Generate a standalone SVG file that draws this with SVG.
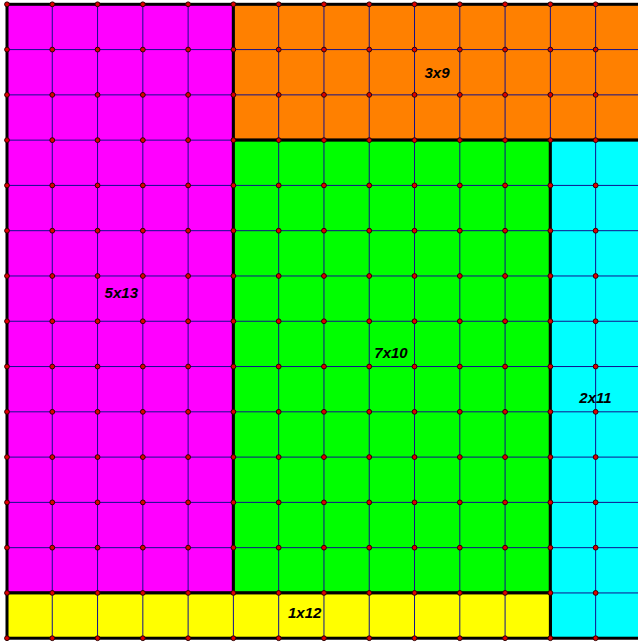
<svg xmlns="http://www.w3.org/2000/svg" width="638" height="642" viewBox="0 0 638 642">
<style>
.grid{fill:none;stroke:#10108c;stroke-width:1}
.border{fill:none;stroke:#000;stroke-width:3}
.lbl{font-family:"Liberation Sans",Arial,sans-serif;font-size:15px;font-weight:bold;font-style:italic;fill:#000;text-anchor:middle}
.vrow{fill:none;stroke:none;marker-start:url(#dot);marker-mid:url(#dot);marker-end:url(#dot)}
</style>
<defs>
<marker id="dot" markerWidth="8" markerHeight="8" refX="4" refY="4" markerUnits="userSpaceOnUse" overflow="visible">
<circle cx="4" cy="4" r="2.4" fill="#e00000" stroke="#300000" stroke-width="1"/>
</marker>
</defs>
<rect width="638" height="642" fill="#fff"/>
<g id="n5x13">
<rect x="7" y="4.3" width="226.4" height="588.64" fill="#ff00ff"/>
<path class="grid" d="M52.28 4.3V592.94M97.56 4.3V592.94M142.84 4.3V592.94M188.12 4.3V592.94M7 49.58H233.4M7 94.86H233.4M7 140.14H233.4M7 185.42H233.4M7 230.7H233.4M7 275.98H233.4M7 321.26H233.4M7 366.54H233.4M7 411.82H233.4M7 457.1H233.4M7 502.38H233.4M7 547.66H233.4"/>
<rect class="border" x="7" y="4.3" width="226.4" height="588.64"/>
<text class="lbl" x="121.3" y="297.5">5x13</text>
</g>
<g id="n3x9">
<rect x="233.4" y="4.3" width="407.52" height="135.84" fill="#ff8000"/>
<path class="grid" d="M278.68 4.3V140.14M323.96 4.3V140.14M369.24 4.3V140.14M414.52 4.3V140.14M459.8 4.3V140.14M505.08 4.3V140.14M550.36 4.3V140.14M595.64 4.3V140.14M233.4 49.58H640.92M233.4 94.86H640.92"/>
<rect class="border" x="233.4" y="4.3" width="407.52" height="135.84"/>
<text class="lbl" x="437" y="77.5">3x9</text>
</g>
<g id="n7x10">
<rect x="233.4" y="140.14" width="316.96" height="452.8" fill="#00ff00"/>
<path class="grid" d="M278.68 140.14V592.94M323.96 140.14V592.94M369.24 140.14V592.94M414.52 140.14V592.94M459.8 140.14V592.94M505.08 140.14V592.94M233.4 185.42H550.36M233.4 230.7H550.36M233.4 275.98H550.36M233.4 321.26H550.36M233.4 366.54H550.36M233.4 411.82H550.36M233.4 457.1H550.36M233.4 502.38H550.36M233.4 547.66H550.36"/>
<rect class="border" x="233.4" y="140.14" width="316.96" height="452.8"/>
<text class="lbl" x="391" y="357.5">7x10</text>
</g>
<g id="n2x11">
<rect x="550.36" y="140.14" width="90.56" height="498.08" fill="#00ffff"/>
<path class="grid" d="M595.64 140.14V638.22M550.36 185.42H640.92M550.36 230.7H640.92M550.36 275.98H640.92M550.36 321.26H640.92M550.36 366.54H640.92M550.36 411.82H640.92M550.36 457.1H640.92M550.36 502.38H640.92M550.36 547.66H640.92M550.36 592.94H640.92"/>
<rect class="border" x="550.36" y="140.14" width="90.56" height="498.08"/>
<text class="lbl" x="595.5" y="402.5">2x11</text>
</g>
<g id="n1x12">
<rect x="7" y="592.94" width="543.36" height="45.28" fill="#ffff00"/>
<path class="grid" d="M52.28 592.94V638.22M97.56 592.94V638.22M142.84 592.94V638.22M188.12 592.94V638.22M233.4 592.94V638.22M278.68 592.94V638.22M323.96 592.94V638.22M369.24 592.94V638.22M414.52 592.94V638.22M459.8 592.94V638.22M505.08 592.94V638.22"/>
<rect class="border" x="7" y="592.94" width="543.36" height="45.28"/>
<text class="lbl" x="304.7" y="617.5">1x12</text>
</g>
<g id="vertices">
<path class="vrow" d="M7 4.3H52.28H97.56H142.84H188.12H233.4H278.68H323.96H369.24H414.52H459.8H505.08H550.36H595.64H640.92"/>
<path class="vrow" d="M7 49.58H52.28H97.56H142.84H188.12H233.4H278.68H323.96H369.24H414.52H459.8H505.08H550.36H595.64H640.92"/>
<path class="vrow" d="M7 94.86H52.28H97.56H142.84H188.12H233.4H278.68H323.96H369.24H414.52H459.8H505.08H550.36H595.64H640.92"/>
<path class="vrow" d="M7 140.14H52.28H97.56H142.84H188.12H233.4H278.68H323.96H369.24H414.52H459.8H505.08H550.36H595.64H640.92"/>
<path class="vrow" d="M7 185.42H52.28H97.56H142.84H188.12H233.4H278.68H323.96H369.24H414.52H459.8H505.08H550.36H595.64H640.92"/>
<path class="vrow" d="M7 230.7H52.28H97.56H142.84H188.12H233.4H278.68H323.96H369.24H414.52H459.8H505.08H550.36H595.64H640.92"/>
<path class="vrow" d="M7 275.98H52.28H97.56H142.84H188.12H233.4H278.68H323.96H369.24H414.52H459.8H505.08H550.36H595.64H640.92"/>
<path class="vrow" d="M7 321.26H52.28H97.56H142.84H188.12H233.4H278.68H323.96H369.24H414.52H459.8H505.08H550.36H595.64H640.92"/>
<path class="vrow" d="M7 366.54H52.28H97.56H142.84H188.12H233.4H278.68H323.96H369.24H414.52H459.8H505.08H550.36H595.64H640.92"/>
<path class="vrow" d="M7 411.82H52.28H97.56H142.84H188.12H233.4H278.68H323.96H369.24H414.52H459.8H505.08H550.36H595.64H640.92"/>
<path class="vrow" d="M7 457.1H52.28H97.56H142.84H188.12H233.4H278.68H323.96H369.24H414.52H459.8H505.08H550.36H595.64H640.92"/>
<path class="vrow" d="M7 502.38H52.28H97.56H142.84H188.12H233.4H278.68H323.96H369.24H414.52H459.8H505.08H550.36H595.64H640.92"/>
<path class="vrow" d="M7 547.66H52.28H97.56H142.84H188.12H233.4H278.68H323.96H369.24H414.52H459.8H505.08H550.36H595.64H640.92"/>
<path class="vrow" d="M7 592.94H52.28H97.56H142.84H188.12H233.4H278.68H323.96H369.24H414.52H459.8H505.08H550.36H595.64H640.92"/>
<path class="vrow" d="M7 638.22H52.28H97.56H142.84H188.12H233.4H278.68H323.96H369.24H414.52H459.8H505.08H550.36H595.64H640.92"/>
</g>
</svg>
